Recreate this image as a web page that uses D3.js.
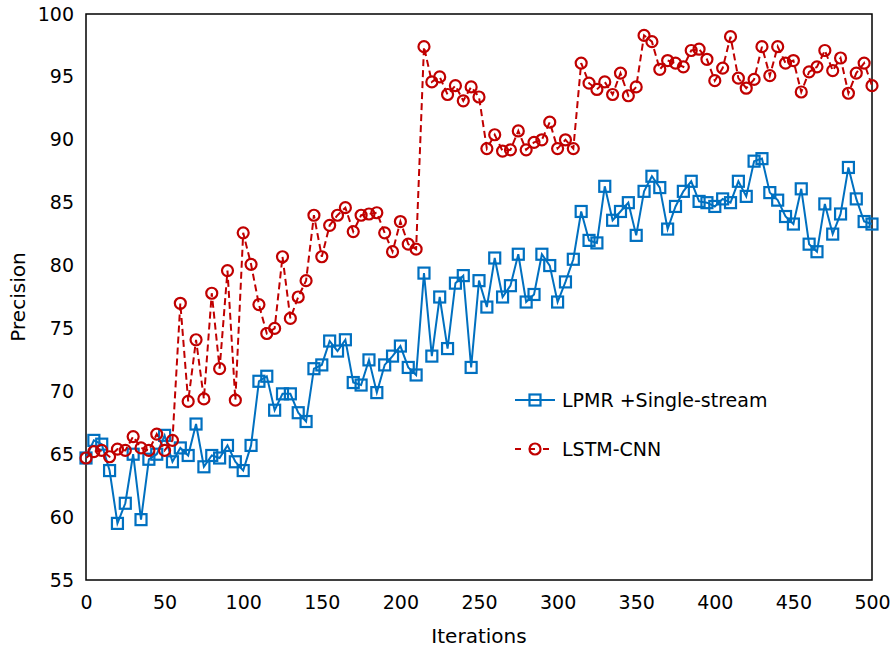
<!DOCTYPE html>
<html>
<head>
<meta charset="utf-8">
<script src="https://cdn.jsdelivr.net/npm/d3@7"></script>
<style>
  body { margin: 0; background: #fff; }
  svg { display: block; }
</style>
</head>
<body>
<svg width="892" height="649"></svg>
<script>
// iterations on the x axis, one point every 5
var iterations = d3.range(0, 501, 5);

var lpmrValues = [
  64.7, 66.1, 65.8, 63.7, 59.5, 61.1, 65.0, 59.8, 64.6, 65.0,
  66.5, 64.4, 65.5, 64.9, 67.4, 64.0, 64.9, 64.7, 65.7, 64.4,
  63.7, 65.7, 70.8, 71.2, 68.5, 69.8, 69.8, 68.3, 67.6, 71.8,
  72.1, 74.0, 73.2, 74.1, 70.7, 70.5, 72.5, 69.9, 72.1, 72.8,
  73.6, 71.9, 71.3, 79.4, 72.8, 77.5, 73.4, 78.6, 79.2, 71.9,
  78.8, 76.7, 80.6, 77.5, 78.4, 80.9, 77.1, 77.7, 80.9, 80.0,
  77.1, 78.7, 80.5, 84.3, 82.0, 81.8, 86.3, 83.6, 84.3, 85.0,
  82.4, 85.9, 87.1, 86.2, 82.9, 84.7, 85.9, 86.7, 85.1, 85.0,
  84.7, 85.3, 85.0, 86.7, 85.5, 88.3, 88.5, 85.8, 85.2, 83.9,
  83.3, 86.1, 81.7, 81.1, 84.9, 82.5, 84.1, 87.8, 85.3, 83.5,
  83.3
];

var lstmValues = [
  64.7, 65.2, 65.3, 64.8, 65.4, 65.3, 66.4, 65.5, 65.3, 66.6,
  65.3, 66.1, 77.0, 69.2, 74.1, 69.4, 77.8, 71.8, 79.6, 69.3,
  82.6, 80.1, 76.9, 74.6, 75.0, 80.7, 75.8, 77.5, 78.8, 84.0,
  80.7, 83.2, 84.0, 84.6, 82.7, 84.0, 84.1, 84.2, 82.6, 81.1,
  83.5, 81.7, 81.3, 97.4, 94.6, 95.0, 93.6, 94.3, 93.1, 94.2,
  93.4, 89.3, 90.4, 89.1, 89.2, 90.7, 89.2, 89.8, 90.0, 91.4,
  89.3, 90.0, 89.3, 96.1, 94.5, 94.0, 94.6, 93.6, 95.3, 93.5,
  94.2, 98.3, 97.8, 95.6, 96.3, 96.1, 95.8, 97.1, 97.2, 96.4,
  94.7, 95.7, 98.2, 94.9, 94.1, 94.8, 97.4, 95.1, 97.4, 96.1,
  96.3, 93.8, 95.4, 95.8, 97.1, 95.5, 96.5, 93.7, 95.3, 96.1,
  94.3
];

var xTicks = [0, 50, 100, 150, 200, 250, 300, 350, 400, 450, 500];
var yTicks = [55, 60, 65, 70, 75, 80, 85, 90, 95, 100];
var seriesNames = ["LPMR +Single-stream", "LSTM-CNN"];

var blue = "#0070c0";
var red = "#c00000";

var svg = d3.select("svg");
var plotLeft = 86, plotRight = 872, plotTop = 14, plotBottom = 580;

var x = d3.scaleLinear().domain([0, 500]).range([plotLeft, plotRight]);
var y = d3.scaleLinear().domain([55, 100]).range([plotBottom, plotTop]);

// plot frame
svg.append("rect")
  .attr("x", plotLeft).attr("y", plotTop)
  .attr("width", plotRight - plotLeft).attr("height", plotBottom - plotTop)
  .attr("fill", "none").attr("stroke", "#000").attr("stroke-width", 1.5);

// y axis labels
var yAxis = svg.append("g")
  .attr("transform", "translate(" + plotLeft + ",0)")
  .call(d3.axisLeft(y).tickValues(yTicks).tickSize(0).tickPadding(12));
yAxis.select(".domain").remove();
yAxis.selectAll("text")
  .attr("font-family", "'DejaVu Sans', Verdana, sans-serif")
  .attr("font-size", 19)
  .attr("fill", "#000");

// x axis labels
var xAxis = svg.append("g")
  .attr("transform", "translate(0," + plotBottom + ")")
  .call(d3.axisBottom(x).tickValues(xTicks).tickSize(0).tickPadding(16));
xAxis.select(".domain").remove();
xAxis.selectAll("text")
  .attr("font-family", "'DejaVu Sans', sans-serif")
  .attr("font-size", 19)
  .attr("fill", "#000");

// axis titles
svg.append("text")
  .attr("x", (plotLeft + plotRight) / 2).attr("y", 643)
  .attr("text-anchor", "middle")
  .attr("font-family", "'DejaVu Sans', sans-serif")
  .attr("font-size", 20)
  .text("Iterations");

svg.append("text")
  .attr("transform", "translate(25," + (plotTop + plotBottom) / 2 + ") rotate(-90)")
  .attr("text-anchor", "middle")
  .attr("font-family", "'DejaVu Sans', Verdana, sans-serif")
  .attr("font-size", 20)
  .text("Precision");

var line = d3.line()
  .x(function(d) { return x(d.it); })
  .y(function(d) { return y(d.v); });

function toPoints(vals) {
  return vals.map(function(v, i) { return { it: iterations[i], v: v }; });
}

var blueData = toPoints(lpmrValues);
var redData = toPoints(lstmValues);

// LPMR series
svg.append("path")
  .datum(blueData)
  .attr("d", line)
  .attr("fill", "none")
  .attr("stroke", blue)
  .attr("stroke-width", 2);

svg.selectAll("rect.blue")
  .data(blueData)
  .enter().append("rect")
  .attr("class", "blue")
  .attr("x", function(d) { return x(d.it) - 5.5; })
  .attr("y", function(d) { return y(d.v) - 5.5; })
  .attr("width", 11).attr("height", 11)
  .attr("fill", "none")
  .attr("stroke", blue)
  .attr("stroke-width", 2.2);

// LSTM-CNN series
svg.append("path")
  .datum(redData)
  .attr("d", line)
  .attr("fill", "none")
  .attr("stroke", red)
  .attr("stroke-width", 2)
  .attr("stroke-dasharray", "7,4");

svg.selectAll("circle.red")
  .data(redData)
  .enter().append("circle")
  .attr("class", "red")
  .attr("cx", function(d) { return x(d.it); })
  .attr("cy", function(d) { return y(d.v); })
  .attr("r", 5.5)
  .attr("fill", "none")
  .attr("stroke", red)
  .attr("stroke-width", 2.2);

// legend
var legend = svg.append("g");
var legY = [400, 449];

legend.append("line")
  .attr("x1", 515).attr("x2", 555)
  .attr("y1", legY[0]).attr("y2", legY[0])
  .attr("stroke", blue).attr("stroke-width", 2);
legend.append("rect")
  .attr("x", 529.5).attr("y", legY[0] - 5.5)
  .attr("width", 11).attr("height", 11)
  .attr("fill", "none").attr("stroke", blue).attr("stroke-width", 2.2);

legend.append("line")
  .attr("x1", 515).attr("x2", 555)
  .attr("y1", legY[1]).attr("y2", legY[1])
  .attr("stroke", red).attr("stroke-width", 2)
  .attr("stroke-dasharray", "6,8");
legend.append("circle")
  .attr("cx", 535).attr("cy", legY[1]).attr("r", 5.5)
  .attr("fill", "none").attr("stroke", red).attr("stroke-width", 2.2);

legend.selectAll("text")
  .data(seriesNames)
  .enter().append("text")
  .attr("x", 562)
  .attr("y", function(d, i) { return legY[i]; })
  .attr("dy", "0.35em")
  .attr("font-family", "'DejaVu Sans', Verdana, sans-serif")
  .attr("font-size", 19)
  .text(function(d) { return d; });
</script>
</body>
</html>
